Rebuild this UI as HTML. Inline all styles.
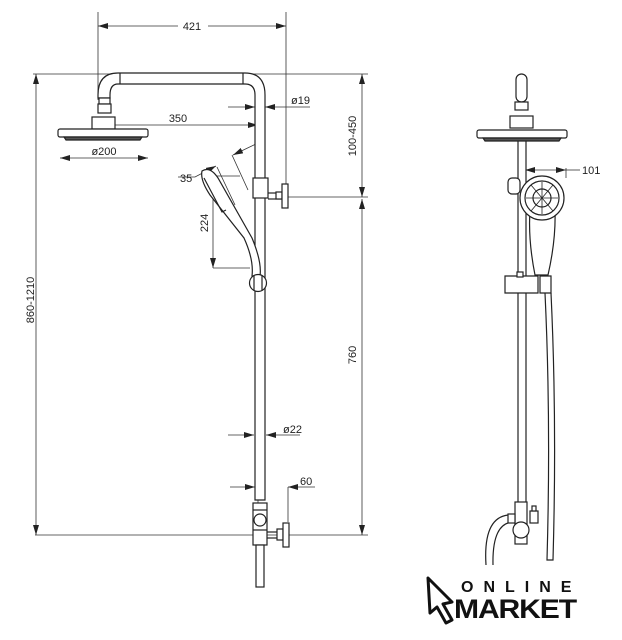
<!DOCTYPE html>
<html><head><meta charset="utf-8"><style>
html,body{margin:0;padding:0;background:#fff;}
svg{display:block;}
text{font-family:"Liberation Sans",sans-serif;fill:#222;}
</style></head><body>
<svg width="622" height="640" viewBox="0 0 622 640" xmlns="http://www.w3.org/2000/svg">
<defs>
<marker id="a" viewBox="0 0 10 6" refX="10" refY="3" markerWidth="10" markerHeight="6" orient="auto-start-reverse" markerUnits="userSpaceOnUse"><path d="M0,0 L10,3 L0,6 z" fill="#222"/></marker>
</defs>
<g stroke="#333" stroke-width="0.8" fill="none">
<line x1="98" y1="12" x2="98" y2="100"/>
<line x1="286" y1="12" x2="286" y2="190"/>
<line x1="33" y1="74" x2="368" y2="74"/>
<line x1="288" y1="197" x2="368" y2="197"/>
<line x1="35" y1="535" x2="368" y2="535"/>
<line x1="98" y1="26" x2="178" y2="26" marker-start="url(#a)"/>
<line x1="208" y1="26" x2="286" y2="26" marker-end="url(#a)"/>
<line x1="36" y1="74" x2="36" y2="535" marker-start="url(#a)" marker-end="url(#a)"/>
<line x1="362" y1="74" x2="362" y2="197" marker-start="url(#a)" marker-end="url(#a)"/>
<line x1="362" y1="199" x2="362" y2="535" marker-start="url(#a)" marker-end="url(#a)"/>
<line x1="105" y1="125" x2="258" y2="125" marker-start="url(#a)" marker-end="url(#a)"/>
<line x1="60" y1="158" x2="148" y2="158" marker-start="url(#a)" marker-end="url(#a)"/>
<line x1="228" y1="107" x2="255" y2="107" marker-end="url(#a)"/>
<line x1="310" y1="107" x2="265" y2="107" marker-end="url(#a)"/>
<line x1="263" y1="98" x2="263" y2="115"/><line x1="258" y1="98" x2="258" y2="125"/>
<line x1="213" y1="178" x2="213" y2="268" marker-start="url(#a)" marker-end="url(#a)"/>
<line x1="213" y1="176" x2="240" y2="176"/>
<line x1="213" y1="268" x2="250" y2="268"/>
<line x1="228" y1="435" x2="254" y2="435" marker-end="url(#a)"/>
<line x1="300" y1="435" x2="266" y2="435" marker-end="url(#a)"/>
<line x1="230" y1="487" x2="255" y2="487" marker-end="url(#a)"/>
<line x1="315" y1="487" x2="288" y2="487" marker-end="url(#a)"/>
<line x1="288" y1="487" x2="288" y2="522"/>
<line x1="258" y1="485" x2="258" y2="503"/>
<line x1="217" y1="167" x2="235" y2="205"/>
<line x1="232" y1="155" x2="248" y2="190"/>
<line x1="258" y1="143" x2="233" y2="155" marker-end="url(#a)"/>
<path d="M178,177 L195,177 L216,166" marker-end="url(#a)"/>
<line x1="525" y1="168" x2="525" y2="176"/><line x1="566" y1="168" x2="566" y2="178"/>
<line x1="525" y1="170" x2="566" y2="170" marker-start="url(#a)" marker-end="url(#a)"/>
<line x1="566" y1="170" x2="580" y2="170"/>
</g>
<g stroke="#222" stroke-width="1.2" fill="#fff">
<path d="M98,98 L98,95 Q98,73 118,73 L245,73 Q265,73 265,95 L265,500 L255,500 L255,95 Q255,84 245,84 L118,84 Q110,84 110,95 L110,98 Z"/>
<line x1="120" y1="73" x2="120" y2="84"/><line x1="243" y1="73" x2="243" y2="84"/>
<rect x="99" y="98" width="11" height="6"/><rect x="98" y="104" width="13" height="9"/>
<rect x="92" y="117" width="23" height="12"/>
<rect x="58" y="129" width="90" height="8" rx="2"/>
<path d="M64,137 L142,137 L140,140 L66,140 Z" fill="#555"/>
<rect x="253" y="178" width="15" height="20"/>
<line x1="268" y1="193" x2="282" y2="193"/><line x1="268" y1="199" x2="282" y2="199"/>
<rect x="276" y="192" width="6" height="7"/>
<rect x="282" y="184" width="6" height="24"/>
<path d="M202,171 Q210,166 218,178 L252,238 Q262,262 260,276 L252,276 Q254,260 244,238 L210,195 Q200,180 202,171 Z"/>
<path d="M204,178 L222,212 L226,210" fill="none"/>
<circle cx="258" cy="283" r="8.5"/>
<line x1="254" y1="276" x2="254" y2="291"/><line x1="262" y1="276" x2="262" y2="291"/>
<rect x="253" y="503" width="14" height="42"/>
<line x1="253" y1="510" x2="267" y2="510"/><line x1="253" y1="530" x2="267" y2="530"/>
<circle cx="260" cy="520" r="6"/>
<line x1="267" y1="532" x2="278" y2="532"/><line x1="267" y1="538" x2="278" y2="538"/>
<rect x="277" y="529" width="6" height="11"/>
<rect x="283" y="523" width="6" height="24"/>
<rect x="256" y="545" width="8" height="42"/>
<rect x="518" y="138" width="8" height="400"/>
<rect x="516" y="74" width="11" height="28" rx="5.5"/>
<rect x="515" y="102" width="13" height="8"/>
<rect x="510" y="116" width="23" height="12"/>
<rect x="477" y="130" width="90" height="8" rx="2"/>
<path d="M483,138 L561,138 L559,141 L485,141 Z" fill="#555"/>
<rect x="508" y="178" width="12" height="16" rx="4"/>
<path d="M530,210 Q528,240 535,275 L548,275 Q556,240 555,210 Z"/>
<circle cx="542" cy="198" r="22"/>
<circle cx="542" cy="198" r="17"/>
<circle cx="542" cy="198" r="9"/>
<path d="M505,276 L538,276 L538,293 L505,293 Z"/>
<rect x="517" y="272" width="6" height="5"/>
<path d="M540,276 L551,276 L551,293 L540,293 Z"/>
<path d="M545,293 Q551,420 547,560 L553,560 Q557,420 551,293" fill="none"/>
<rect x="515" y="502" width="12" height="42"/>
<circle cx="521" cy="530" r="8"/>
<rect x="530" y="511" width="8" height="12"/><rect x="532" y="506" width="4" height="5"/>
<path d="M508,515 Q483,518 486,565 M514,522 Q492,522 493,565" fill="none"/>
<rect x="508" y="514" width="7" height="9"/>
</g>
<g stroke="#222" stroke-width="0.8" fill="none">
<line x1="531" y1="185" x2="553" y2="211"/><line x1="553" y1="185" x2="531" y2="211"/>
<line x1="542" y1="182" x2="542" y2="214"/><line x1="526" y1="198" x2="558" y2="198"/>
</g>
<g font-size="11">
<text x="192" y="30" text-anchor="middle">421</text>
<text x="178" y="122" text-anchor="middle">350</text>
<text x="291" y="104" text-anchor="start">ø19</text>
<text x="104" y="155" text-anchor="middle">ø200</text>
<text x="180" y="182" text-anchor="start">35</text>
<text x="283" y="433" text-anchor="start">ø22</text>
<text x="300" y="485" text-anchor="start">60</text>
<text x="582" y="174" text-anchor="start">101</text>
<text transform="translate(208,223) rotate(-90)" text-anchor="middle">224</text>
<text transform="translate(356,136) rotate(-90)" text-anchor="middle">100-450</text>
<text transform="translate(356,355) rotate(-90)" text-anchor="middle">760</text>
<text transform="translate(34,300) rotate(-90)" text-anchor="middle">860-1210</text>
</g>
<path d="M428,578 L452,602 L443,604 L452,620 L446,623 L437,607 L430,613 Z" fill="#fff" stroke="#111" stroke-width="3" stroke-linejoin="round"/>
<text x="461" y="592" font-size="16" font-weight="bold" style="letter-spacing:10px;fill:#111">ONLINE</text>
<text x="454" y="618" font-size="27" font-weight="bold" style="letter-spacing:-1px;fill:#111" textLength="122" lengthAdjust="spacingAndGlyphs">MARKET</text>
</svg>
</body></html>
